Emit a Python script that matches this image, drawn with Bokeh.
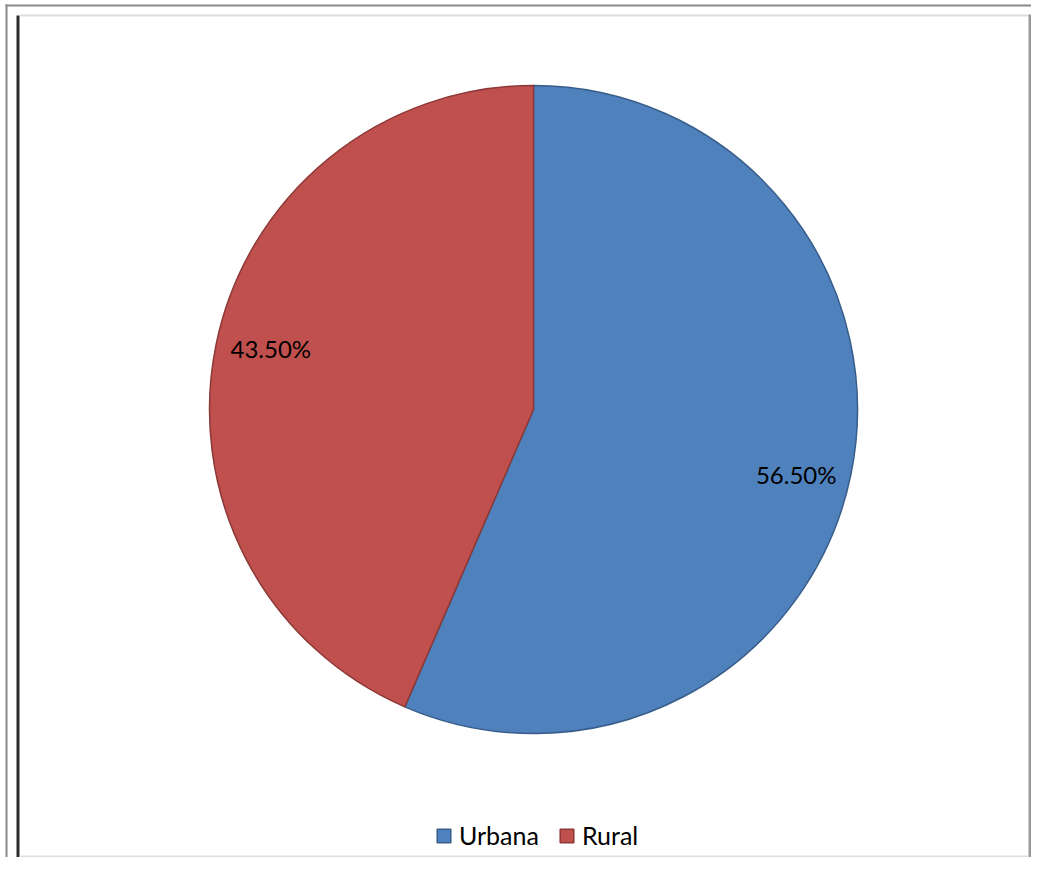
import math
from bokeh.plotting import figure
from bokeh.models import Range1d, BoxAnnotation, Legend, LegendItem, ColumnDataSource
from bokeh.core.properties import value
from bokeh.embed import file_html
from bokeh.resources import INLINE

categories = ["Urbana", "Rural"]
values = [56.5, 43.5]
labels = ["56.50%", "43.50%"]
fill_colors = ["#4F81BD", "#C0504D"]
line_colors = ["#385D8A", "#8C3836"]

W, H = 1031, 857
CX, CY, R = 533, H - 409, 324
FONT = "Lato"

p = figure(width=W, height=H, output_backend="svg", toolbar_location=None,
           x_range=Range1d(0, W), y_range=Range1d(0, H), min_border=0)
p.axis.visible = False
p.grid.visible = False
p.outline_line_color = None
p.background_fill_color = "white"

def box(l, r, b, t, c):
    p.add_layout(BoxAnnotation(left=l, right=r, bottom=b, top=t, fill_color=c,
                               fill_alpha=1, line_alpha=0))

# frame decorations
box(5, W, H - 6, H - 4, "#8a8a8a")        # outer top
box(5, 7, 0, H - 4, "#8a8a8a")            # outer left
box(16, 19, 0, H - 15, "#2b2b2b")         # inner left (dark)
box(19, W - 3, H - 16, H - 14, "#dedede") # inner top (light)
box(W - 3, W, 0, H - 14, "#9a9a9a")       # inner right
box(19, W - 3, 0, 2, "#dedede")           # inner bottom

total = sum(values)
starts, ends, lx, ly, aligns = [], [], [], [], []
a = 90.0
for v in values:
    span = 360.0 * v / total
    s, e = a, a - span
    starts.append(math.radians(s))
    ends.append(math.radians(e))
    mid = math.radians((s + e) / 2)
    lx.append(CX + 0.955 * R * math.cos(mid))
    ly.append(CY + 0.955 * R * math.sin(mid))
    aligns.append("right" if math.cos(mid) > 0 else "left")
    a = e

src = ColumnDataSource(dict(cat=categories, val=values, start=starts, end=ends,
                            fill=fill_colors, line=line_colors,
                            x=[CX] * len(values), y=[CY] * len(values)))
r = p.wedge(x="x", y="y", radius=R, start_angle="start", end_angle="end", direction="clock",
            fill_color="fill", line_color="line", line_width=1.5, source=src)

lsrc = ColumnDataSource(dict(x=lx, y=ly, text=labels, align=aligns))
p.text(x="x", y="y", text="text", text_align="align", text_baseline="middle",
       text_font=value(FONT), text_font_size="24px", text_color="black", y_offset=2, source=lsrc)

items = [LegendItem(label=c, renderers=[r], index=i) for i, c in enumerate(categories)]
legend = Legend(items=items, orientation="horizontal", location=(435, 7),
                glyph_width=17, glyph_height=17, label_standoff=7, spacing=19,
                padding=0, margin=0, border_line_alpha=0, background_fill_alpha=0,
                label_text_font=FONT, label_text_font_size="25px", label_text_color="black")
p.add_layout(legend, "center")

open("out.html", "w").write(file_html(p, INLINE))
